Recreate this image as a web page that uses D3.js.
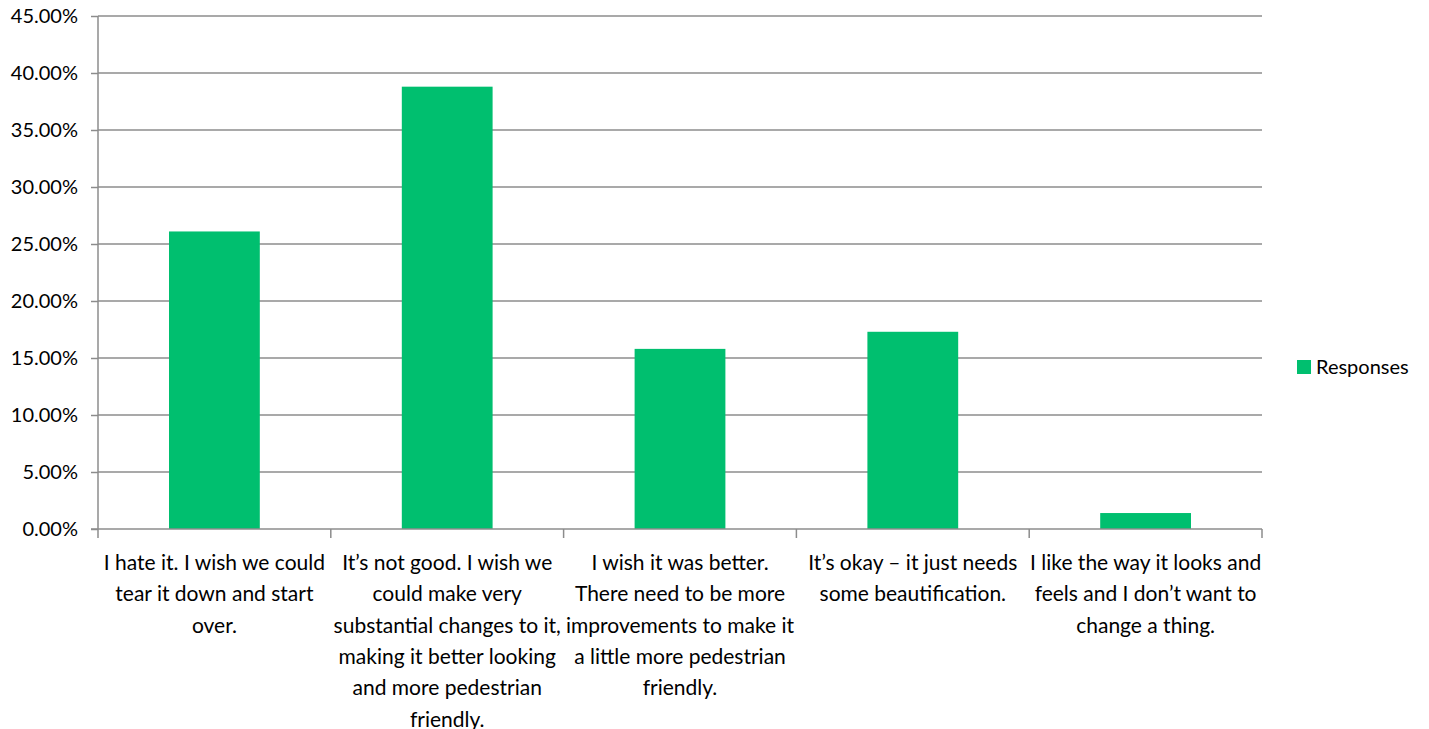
<!DOCTYPE html>
<html><head><meta charset="utf-8">
<script src="https://cdn.jsdelivr.net/npm/d3@7"></script>
<style>body{margin:0;background:#fff;} text{font-family:Lato, "Noto Sans", sans-serif;fill:#000;}</style>
</head><body>
<svg id="c" width="1429" height="729"></svg>
<script>
const categories = [
  ["I hate it. I wish we could","tear it down and start","over."],
  ["It\u2019s not good. I wish we","could make very","substantial changes to it,","making it better looking","and more pedestrian","friendly."],
  ["I wish it was better.","There need to be more","improvements to make it","a little more pedestrian","friendly."],
  ["It\u2019s okay \u2013 it just needs","some beautification."],
  ["I like the way it looks and","feels and I don\u2019t want to","change a thing."]
];
const values = [26.1, 38.8, 15.8, 17.3, 1.4];
const yTicks = [0,5,10,15,20,25,30,35,40,45];
const seriesName = "Responses";

(function(){
const svg = d3.select("#c");
const pL = 98, pR = 1262, pT = 16, pB = 529;
const x = d3.scaleBand().domain(d3.range(values.length)).range([pL, pR]).paddingInner(0.61).paddingOuter(0.305);
const band = d3.scaleBand().domain(d3.range(values.length)).range([pL, pR]);
const y = d3.scaleLinear().domain([0,45]).range([pB, pT]);
const grid = "#8c8c8c";

svg.append("g").selectAll("line").data(yTicks.filter(d=>d>0)).join("line")
  .attr("x1", pL).attr("x2", pR).attr("y1", d=>y(d)).attr("y2", d=>y(d))
  .attr("stroke", grid).attr("stroke-width", 1.5);

svg.append("g").selectAll("rect").data(values).join("rect")
  .attr("x", (d,i)=>x(i)).attr("width", x.bandwidth())
  .attr("y", d=>y(d)).attr("height", d=>pB - y(d))
  .attr("fill", "#00bf6f");

const ya = svg.append("g").attr("transform", `translate(${pL},0)`)
  .call(d3.axisLeft(y).tickValues(yTicks).tickSize(7).tickPadding(13).tickFormat(d=>d.toFixed(2)+"%"));
ya.select(".domain").attr("stroke", grid).attr("stroke-width", 1.5).attr("d", `M0,${pT}V${pB}`);
ya.selectAll(".tick line").attr("stroke", grid).attr("stroke-width", 1.5);
ya.selectAll(".tick text").attr("font-size", 20).attr("font-family", "Lato").attr("fill","#000");

svg.append("line").attr("x1", pL-7).attr("x2", pR).attr("y1", pB).attr("y2", pB)
  .attr("stroke", grid).attr("stroke-width", 1.5);
const bounds = d3.range(values.length+1).map(i => i < values.length ? band(i) : pR);
svg.append("g").selectAll("line").data(bounds).join("line")
  .attr("x1", d=>d).attr("x2", d=>d).attr("y1", pB).attr("y2", pB+9)
  .attr("stroke", grid).attr("stroke-width", 1.5);

const lab = svg.append("g").selectAll("text").data(categories).join("text")
  .attr("text-anchor", "middle").attr("font-size", 21)
  .attr("transform", (d,i)=>`translate(${band(i)+band.bandwidth()/2},0)`);
lab.selectAll("tspan").data(d=>d).join("tspan")
  .attr("x", 0).attr("y", (d,j)=>570 + j*31.3).text(d=>d);

const lg = svg.append("g").attr("transform", "translate(1297,360)");
lg.append("rect").attr("width", 14).attr("height", 14).attr("fill", "#00bf6f");
lg.append("text").attr("x", 19).attr("y", 14).attr("font-size", 20).text(seriesName);
})();
</script>
</body></html>
